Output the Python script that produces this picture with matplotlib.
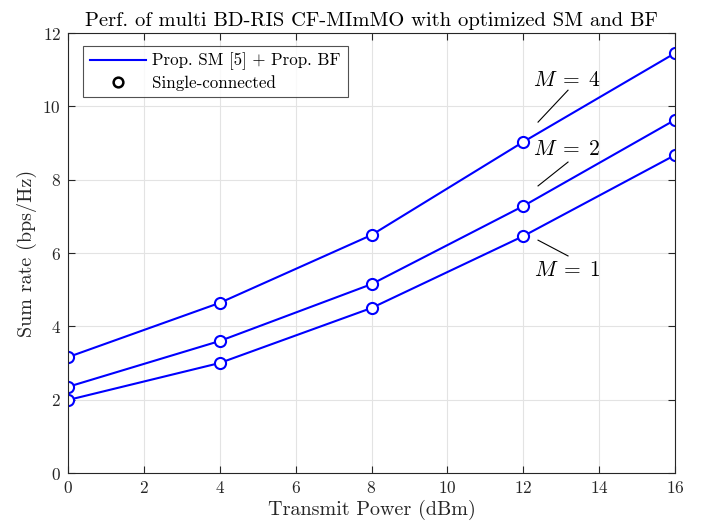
import matplotlib
matplotlib.use("Agg")
import matplotlib.pyplot as plt
from matplotlib.lines import Line2D

plt.rcParams['font.family'] = 'serif'
plt.rcParams['font.serif'] = ['cmr10']
plt.rcParams['mathtext.fontset'] = 'cm'
plt.rcParams['axes.formatter.use_mathtext'] = True

power = [0, 4, 8, 12, 16]
rate_M4 = [3.16, 4.64, 6.49, 9.03, 11.45]
rate_M2 = [2.35, 3.60, 5.15, 7.28, 9.63]
rate_M1 = [1.99, 3.00, 4.50, 6.46, 8.67]
xticks = [0, 2, 4, 6, 8, 10, 12, 14, 16]
yticks = [0, 2, 4, 6, 8, 10, 12]

fig = plt.figure(figsize=(7.12, 5.29), dpi=100)
ax = fig.add_axes([68/712, 1-473/529, 607/712, 440/529])

for r in (rate_M1, rate_M2, rate_M4):
    ax.plot(power, r, color='#0000ff', lw=1.5, marker='o', ms=8,
            mfc='white', mec='#0000ff', mew=1.5)

ax.set_xlim(0, 16)
ax.set_ylim(0, 12)
ax.set_xticks(xticks)
ax.set_yticks(yticks)
ax.grid(True, color='#e3e3e3', lw=0.8)
ax.set_axisbelow(True)
ax.tick_params(direction='in', labelsize=12.5, colors='#262626', length=5, top=True, right=True, labeltop=False, labelright=False, pad=5)
for s in ax.spines.values():
    s.set_color('#262626')
    s.set_linewidth(0.8)

ax.set_xlabel('Transmit Power (dBm)', fontsize=14.5, color='#262626', labelpad=3)
ax.set_ylabel('Sum rate (bps/Hz)', fontsize=14.5, color='#262626', labelpad=4)
ax.set_title('Perf. of multi BD-RIS CF-MImMO with optimized SM and BF', fontsize=14.8, color='black', pad=5)

# annotations
ax.plot([12.39, 13.18], [9.57, 10.44], color='k', lw=0.8)
ax.text(13.15, 10.72, r'$M\;=\;4$', fontsize=15.5, ha='center', va='center')
ax.plot([12.39, 13.18], [7.83, 8.48], color='k', lw=0.8)
ax.text(13.15, 8.84, r'$M\;=\;2$', fontsize=15.5, ha='center', va='center')
ax.plot([12.39, 13.18], [6.35, 5.92], color='k', lw=0.8)
ax.text(13.15, 5.54, r'$M\;=\;1$', fontsize=15.5, ha='center', va='center')

handles = [Line2D([], [], color='#0000ff', lw=1.5),
           Line2D([], [], ls='none', marker='o', ms=7, mfc='white', mec='black', mew=1.8)]
leg = ax.legend(handles, ['Prop. SM [5] + Prop. BF', 'Single-connected'],
                loc='upper left', bbox_to_anchor=(15/607, 1-13/440), fontsize=12.2,
                frameon=True, fancybox=False, edgecolor='#262626',
                handlelength=3.3, borderpad=0.4, labelspacing=0.25, handletextpad=0.4,
                borderaxespad=0.0)
leg.get_frame().set_linewidth(0.8)

fig.savefig('out.png', dpi=100)
